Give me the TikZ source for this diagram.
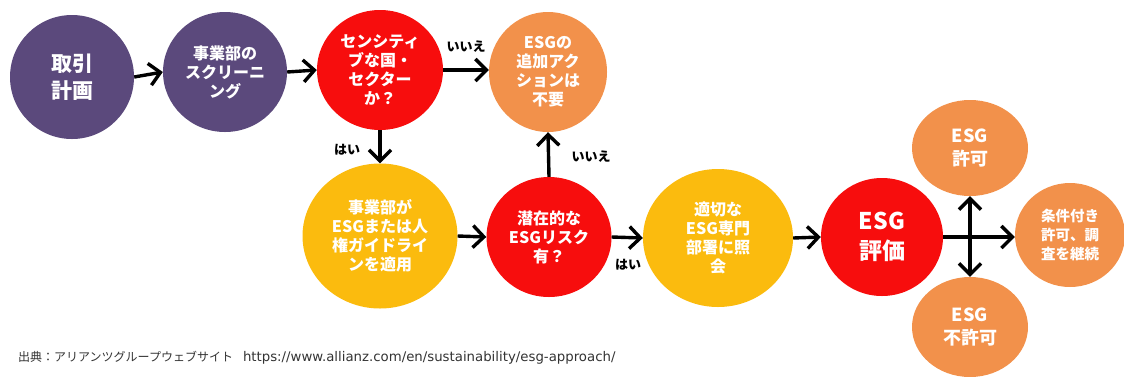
\documentclass[tikz,border=0pt]{standalone}
\usepackage{fontspec}
\setmainfont{Noto Sans CJK JP}
\newfontfamily\urlfont{DejaVu Sans}
\usetikzlibrary{shapes.geometric,arrows.meta}
\definecolor{cpurple}{HTML}{5B497C}
\definecolor{cred}{HTML}{F70D0D}
\definecolor{corange}{HTML}{F2914B}
\definecolor{cyellow}{HTML}{FBBB0E}
\tikzset{
  bub/.style={ellipse,inner sep=0pt,text=white,align=center,font=\bfseries\fontsize{16}{19}\selectfont},
  arr/.style={line width=3.4pt,-{Straight Barb[length=11pt,width=22pt]}},
  darr/.style={line width=3.4pt,{Straight Barb[length=11pt,width=22pt]}-{Straight Barb[length=11pt,width=22pt]}},
  lab/.style={font=\bfseries\fontsize{13}{15}\selectfont,text=black}
}
\begin{document}
\begin{tikzpicture}[x=1pt,y=-1pt]
\useasboundingbox (0,0) rectangle (1124,376);
\node[bub,fill=cpurple,minimum width=124pt,minimum height=124pt,font=\bfseries\fontsize{21}{27}\selectfont] (n1) at (72,77) {取引\\計画};
\node[bub,fill=cpurple,minimum width=124pt,minimum height=120pt] (n2) at (225,72) {事業部の\\スクリーニ\\ング};
\node[bub,fill=cred,minimum width=126pt,minimum height=120pt] (n3) at (380,70) {センシティ\\ブな国・\\セクター\\か？};
\node[bub,fill=corange,minimum width=118pt,minimum height=120pt] (n4) at (548,72) {ESGの\\追加アク\\ションは\\不要};
\node[bub,fill=cyellow,minimum width=155pt,minimum height=145pt] (n5) at (380,236) {事業部が\\ESGまたは人\\権ガイドライ\\ンを適用};
\node[bub,fill=cred,minimum width=125pt,minimum height=120pt] (n6) at (549,237) {潜在的な\\ESGリスク\\有？};
\node[bub,fill=cyellow,minimum width=150pt,minimum height=138pt] (n7) at (718,238) {適切な\\ESG専門\\部署に照\\会};
\node[bub,fill=cred,minimum width=122pt,minimum height=118pt,font=\bfseries\fontsize{23}{30}\selectfont] (n8) at (882,237) {ESG\\評価};
\node[bub,fill=corange,minimum width=116pt,minimum height=96pt,font=\bfseries\fontsize{18}{23}\selectfont] (n9) at (970,148) {ESG\\許可};
\node[bub,fill=corange,minimum width=116pt,minimum height=100pt,font=\bfseries\fontsize{18}{23}\selectfont] (n10) at (970,327) {ESG\\不許可};
\node[bub,fill=corange,minimum width=110pt,minimum height=104pt,font=\bfseries\fontsize{14.5}{19}\selectfont] (n11) at (1070,235) {条件付き\\許可、調\\査を継続};
\draw[arr] (n1.east) -- (n2.west);
\draw[arr] (n2.east) -- (n3.west);
\draw[arr] (n3.east) -- (n3.east -| n4.west);
\node[lab] (l1) at (466,47) {いいえ};
\draw[arr] (n3.south) -- (n5.north);
\node[lab] (l2) at (347,150) {はい};
\draw[arr] (n5.east) -- (n6.west);
\draw[arr] (n6.north) -- (n4.south);
\node[lab] (l3) at (591,157) {いいえ};
\draw[arr] (n6.east) -- (n7.west);
\node[lab] (l4) at (628,265) {はい};
\draw[arr] (n7.east) -- (n8.west);
\draw[arr] (n8.east) -- (n8.east -| n11.west);
\draw[darr] (n9.south) -- (n10.north);
\node[anchor=west,text=black!80,inner sep=0pt] (src) at (18,358) {\fontsize{12}{14}\selectfont 出典：アリアンツグループウェブサイト\hspace{10pt}{\urlfont\fontsize{13.3}{15}\selectfont https://www.allianz.com/en/sustainability/esg-approach/}};
\end{tikzpicture}
\end{document}
